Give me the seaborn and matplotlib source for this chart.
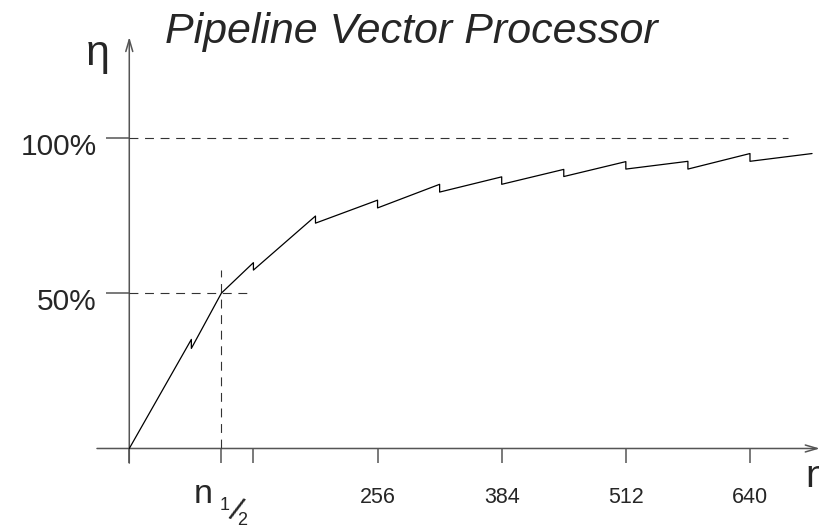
import matplotlib
matplotlib.use("Agg")
import matplotlib.pyplot as plt
import seaborn as sns
from matplotlib.patches import FancyArrowPatch

# vector length n and efficiency (%)
n_len = [0, 64, 64, 95, 128, 128, 192, 192, 256, 256, 320, 320, 384, 384,
         448, 448, 512, 512, 576, 576, 640, 640, 704]
eta = [0, 35.1, 32.2, 50, 59.8, 57.4, 74.8, 72.5, 79.9, 77.4, 85.0, 82.5,
       87.4, 85.0, 89.8, 87.5, 92.3, 89.9, 92.4, 89.9, 94.9, 92.4, 94.9]

n_half = 95
xticks = [0, 95, 128, 256, 384, 512, 640]
xtick_labels = ["", "", "", "256", "384", "512", "640"]
yticks = [50, 100]
ytick_labels = ["50%", "100%"]

sns.set_style("white")
plt.rcParams["font.family"] = ["Liberation Sans", "DejaVu Sans"]

fig = plt.figure(figsize=(8.2, 5.27), dpi=100)
ax = fig.add_axes([0, 0, 1, 1])
ax.set_xlim(-133.3, 712.2)
ax.set_ylim(-25.26, 144.3)
ax.axis("off")

axis_col = "#555555"
dash_col = "#333333"

# axes with open arrow heads
for start, end in [((0, -4.7), (0, 132.4)), ((-33.3, 0), (712, 0))]:
    ax.add_patch(FancyArrowPatch(start, end, arrowstyle="->,head_length=0.85,head_width=0.25",
                                 mutation_scale=10, color=axis_col, lw=1.1,
                                 shrinkA=0, shrinkB=0))

# ticks
ax.vlines(xticks, -4.7, 0, color=axis_col, lw=1.1)
ax.hlines(yticks, -23.7, 0, color=axis_col, lw=1.1)

# dashed guides
dash = (0, (8, 6))
ax.hlines(100, 0, 679, color=dash_col, lw=0.8, linestyles=[dash])
ax.hlines(50, 0, 121, color=dash_col, lw=0.8, linestyles=[dash])
ax.vlines(n_half, 0, 57.4, color=dash_col, lw=0.8, linestyles=[dash])

# efficiency curve
sns.lineplot(x=n_len, y=eta, sort=False, estimator=None, color="black",
             lw=0.9, ax=ax)

# labels
for x, lab in zip(xticks, xtick_labels):
    if lab:
        ax.text(x, -17.5, lab, ha="center", va="baseline", fontsize=15.5)
for y, lab in zip(yticks, ytick_labels):
    ax.text(-33.3, y - 5.6, lab, ha="right", va="baseline", fontsize=21.5)

ax.text(290.5, 130.5, "Pipeline Vector Processor", ha="center", va="baseline",
        fontsize=31, style="italic")
ax.text(-33.0, 123.4, "η", ha="center", va="baseline", fontsize=31)
ax.text(696.7, -12.4, "n", ha="left", va="baseline", fontsize=28)

ax.text(76.5, -17.5, "n", ha="center", va="baseline", fontsize=24.5)
ax.text(98.7, -19.8, "1", ha="center", va="baseline", fontsize=13)
ax.text(109.2, -20.4, "/", ha="center", va="center", fontsize=24, rotation=-22)
ax.text(116.7, -24.6, "2", ha="center", va="baseline", fontsize=13)

fig.savefig("out.png", dpi=100)
